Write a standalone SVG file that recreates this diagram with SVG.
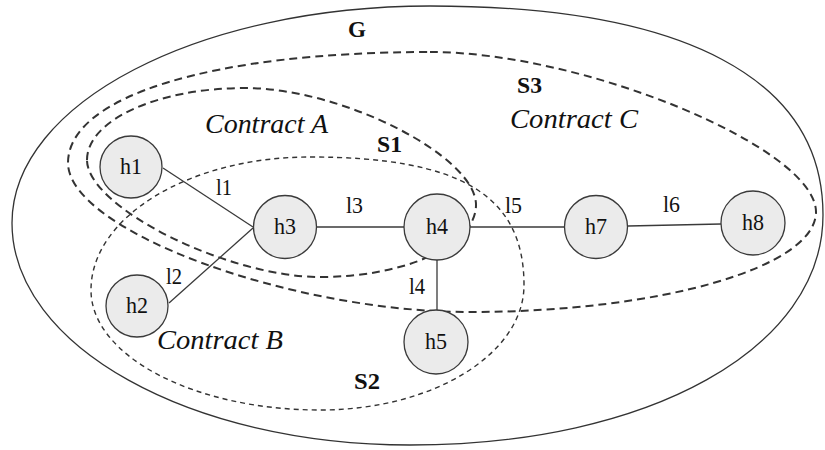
<svg xmlns="http://www.w3.org/2000/svg" width="825" height="450" viewBox="0 0 825 450">
  <style>
    .bg { fill: #ffffff; }
    .region { fill: none; stroke: #333333; }
    .g-outline { stroke-width: 1.3; }
    .set-heavy { stroke-width: 2; stroke-dasharray: 8 5; }
    .set-light { stroke-width: 1.4; stroke-dasharray: 5 4; }
    .edge { stroke: #3a3a3a; stroke-width: 1.3; fill: none; }
    .node circle { fill: #ebebeb; stroke: #3a3a3a; stroke-width: 1.3; }
    .node text, .edge-label { font-family: "Liberation Serif", "Times New Roman", serif; font-size: 23px; fill: #111111; }
    .node text { text-anchor: middle; font-size: 24px; }
    .set-label { font-family: "Liberation Serif", "Times New Roman", serif; font-weight: bold; font-size: 23px; fill: #111111; }
    .contract { font-family: "Liberation Serif", "Times New Roman", serif; font-style: italic; font-size: 28px; fill: #111111; }
  </style>

  <rect class="bg" x="0" y="0" width="825" height="450"/>

  <!-- Regions: graph G, sub-graphs S1, S2, S3 -->
  <g id="regions">
    <path id="region-G" class="region g-outline" d="M430,6 C685,6 823,79 823,215 C823,348 650,445 410,445 C190,445 12,346 12,223 C12,103 199,6 430,6 Z"/>
    <path id="region-S3" class="region set-heavy" d="M430,52 C584,52 816,148 816,212 C816,267 661,312 470,312 C289,312 68,230 68,163 C68,96 213,52 430,52 Z"/>
    <path id="region-S1" class="region set-heavy" d="M87,160 C87,120 158,88 245,88 C342,88 476,156 476,205 C476,245 406,277 320,277 C227,277 87,207 87,160 Z"/>
    <path id="region-S2" class="region set-light" d="M310,157 C460,157 524,195 524,285 C524,354 433,410 320,410 C194,410 91,356 91,290 C91,217 189,157 310,157 Z"/>
  </g>

  <g id="region-labels">
    <text class="set-label" x="348" y="37" font-size="21" textLength="18" lengthAdjust="spacingAndGlyphs">G</text>
    <text class="set-label" x="517" y="93" textLength="25" lengthAdjust="spacingAndGlyphs">S3</text>
    <text class="set-label" x="377" y="152" textLength="25" lengthAdjust="spacingAndGlyphs">S1</text>
    <text class="set-label" x="354" y="389" textLength="26" lengthAdjust="spacingAndGlyphs">S2</text>
    <text class="contract" x="205" y="133" textLength="123" lengthAdjust="spacingAndGlyphs">Contract A</text>
    <text class="contract" x="157" y="349" textLength="126" lengthAdjust="spacingAndGlyphs">Contract B</text>
    <text class="contract" x="510" y="128" textLength="128" lengthAdjust="spacingAndGlyphs">Contract C</text>
  </g>

  <!-- Links -->
  <g id="connectors">
    <line id="link-l1" class="edge" x1="163" y1="168" x2="253" y2="227"/>
    <line id="link-l2" class="edge" x1="169" y1="303" x2="253" y2="228"/>
    <line id="link-l3" class="edge" x1="317" y1="227" x2="404" y2="227"/>
    <line id="link-l4" class="edge" x1="437" y1="260" x2="437" y2="310"/>
    <line id="link-l5" class="edge" x1="470" y1="227" x2="564" y2="227"/>
    <line id="link-l6" class="edge" x1="628" y1="226" x2="721" y2="224"/>
    <text class="edge-label" x="216" y="195" textLength="16" lengthAdjust="spacingAndGlyphs">l1</text>
    <text class="edge-label" x="166" y="284" textLength="16" lengthAdjust="spacingAndGlyphs">l2</text>
    <text class="edge-label" x="346" y="213" textLength="17" lengthAdjust="spacingAndGlyphs">l3</text>
    <text class="edge-label" x="409" y="294" textLength="16" lengthAdjust="spacingAndGlyphs">l4</text>
    <text class="edge-label" x="505" y="213" textLength="17" lengthAdjust="spacingAndGlyphs">l5</text>
    <text class="edge-label" x="663" y="212" textLength="17" lengthAdjust="spacingAndGlyphs">l6</text>
  </g>

  <!-- Hosts -->
  <g id="h1" class="node"><circle cx="131" cy="167" r="31"/><text x="131" y="174" textLength="22" lengthAdjust="spacingAndGlyphs">h1</text></g>
  <g id="h2" class="node"><circle cx="137" cy="306" r="31"/><text x="137" y="313" textLength="22" lengthAdjust="spacingAndGlyphs">h2</text></g>
  <g id="h3" class="node"><circle cx="285" cy="227" r="31.5"/><text x="285" y="234" textLength="22" lengthAdjust="spacingAndGlyphs">h3</text></g>
  <g id="h4" class="node"><circle cx="437" cy="227" r="33"/><text x="437" y="234" textLength="22" lengthAdjust="spacingAndGlyphs">h4</text></g>
  <g id="h5" class="node"><circle cx="436" cy="342" r="32"/><text x="436" y="349" textLength="22" lengthAdjust="spacingAndGlyphs">h5</text></g>
  <g id="h7" class="node"><circle cx="596" cy="227" r="31.5"/><text x="596" y="234" textLength="22" lengthAdjust="spacingAndGlyphs">h7</text></g>
  <g id="h8" class="node"><circle cx="753" cy="223" r="32"/><text x="753" y="230" textLength="22" lengthAdjust="spacingAndGlyphs">h8</text></g>
</svg>
